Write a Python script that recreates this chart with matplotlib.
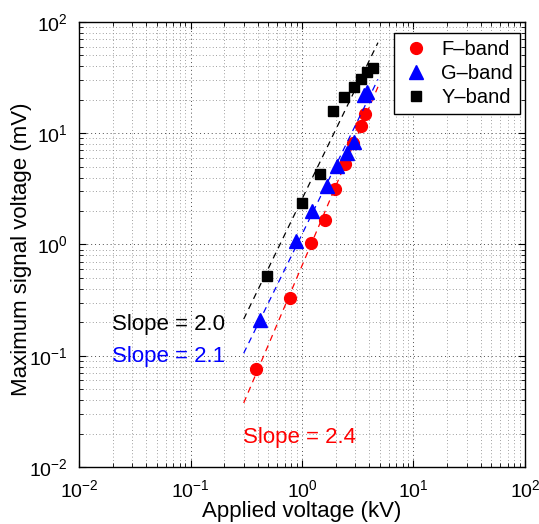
import numpy as np
import matplotlib
matplotlib.use("Agg")
import matplotlib.pyplot as plt

plt.rcParams["font.family"] = ["Liberation Sans", "DejaVu Sans"]
plt.rcParams["mathtext.fontset"] = "custom"
plt.rcParams["mathtext.rm"] = "Liberation Sans"
plt.rcParams["mathtext.it"] = "Liberation Sans"

# F-band (red circles)
f_kv = [0.386, 0.78, 1.205, 1.61, 1.98, 2.43, 2.87, 3.38, 3.67]
f_mv = [0.076, 0.33, 1.03, 1.66, 3.15, 5.3, 8.2, 11.6, 14.9]
# G-band (blue triangles)
g_kv = [0.42, 0.88, 1.23, 1.68, 2.06, 2.53, 2.93, 3.6, 3.83]
g_mv = [0.21, 1.07, 2.0, 3.36, 5.08, 6.6, 8.3, 22.0, 23.5]
# Y-band (black squares)
y_kv = [0.485, 1.0, 1.45, 1.90, 2.38, 2.93, 3.38, 3.83, 4.33]
y_mv = [0.52, 2.36, 4.3, 15.8, 21.2, 26.0, 30.7, 35.5, 38.6]

fit_range = [0.3, 4.8]

fig = plt.figure(figsize=(5.39, 5.24), dpi=100)
ax = fig.add_axes([0.1466, 0.1088, 0.8274, 0.8492])

series = [
    (f_kv, f_mv, "r", "o", 8.5, "F\u2013band"),
    (g_kv, g_mv, "b", "^", 9.5, "G\u2013band"),
    (y_kv, y_mv, "k", "s", 6.5, "Y\u2013band"),
]
for xs, ys, c, m, ms, lab in series:
    ax.plot(xs, ys, m, color=c, markersize=ms, linestyle="none", label=lab)
    p = np.polyfit(np.log10(xs), np.log10(ys), 1)
    xx = np.logspace(np.log10(fit_range[0]), np.log10(fit_range[1]), 50)
    ax.plot(xx, 10 ** np.polyval(p, np.log10(xx)), "--", color=c, lw=0.9,
            dashes=(5, 4))

ax.text(0.0198, 0.189, "Slope = 2.0", color="k", fontsize=16, va="center")
ax.text(0.0198, 0.0975, "Slope = 2.1", color="b", fontsize=16, va="center")
ax.text(0.296, 0.0186, "Slope = 2.4", color="r", fontsize=16, va="center")

ax.set_xscale("log")
ax.set_yscale("log")
ax.set_xlim(1e-2, 1e2)
ax.set_ylim(1e-2, 1e2)
ax.grid(True, which="major", linestyle=(0, (1, 3)), color="0.3", lw=0.7)
ax.grid(True, which="minor", linestyle=(0, (1, 3)), color="0.5", lw=0.6)
ax.tick_params(which="both", direction="in", top=True, right=True,
               labelsize=14)
ax.tick_params(which="major", length=5)
ax.tick_params(which="minor", length=3)
ax.tick_params(axis="x", which="major", pad=9)
ax.tick_params(axis="y", which="major", pad=8)
for s in ax.spines.values():
    s.set_linewidth(1.0)
ax.set_xlabel("Applied voltage (kV)", fontsize=16)
ax.set_ylabel("Maximum signal voltage (mV)", fontsize=16)
ax.xaxis.set_label_coords(0.5, -0.077)
ax.yaxis.set_label_coords(-0.105, 0.49)
leg = ax.legend(loc="upper right", bbox_to_anchor=(0.989, 0.975),
                borderaxespad=0, fontsize=14.5, fancybox=False,
                edgecolor="k", framealpha=1, handletextpad=0.5,
                labelspacing=0.25, borderpad=0.35, handlelength=1.5)
leg.get_frame().set_linewidth(1.0)

fig.savefig("out.png", dpi=100)
